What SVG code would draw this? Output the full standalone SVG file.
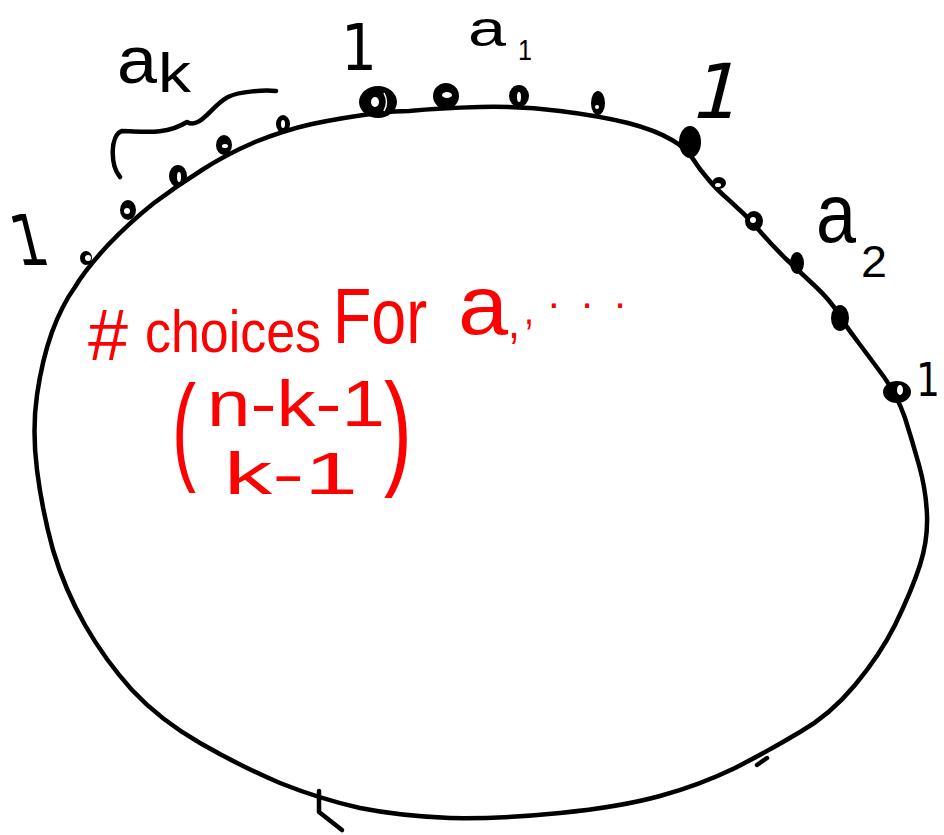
<svg xmlns="http://www.w3.org/2000/svg" width="944" height="835" viewBox="0 0 944 835">
<style>
.c{fill:none;stroke:#000;stroke-width:4.5;stroke-linecap:round;stroke-linejoin:round}
.h{fill:#fff}
.k{fill:#000;font-family:"Liberation Sans",Arial,sans-serif}
.o{fill:#000;font-family:"DejaVu Sans",sans-serif}
.r{fill:#f00;font-family:"Liberation Sans",Arial,sans-serif}
</style>
<rect width="944" height="835" fill="#fff"/>
<g id="loop">
<path class="c" d="M409 111Q440 108 480 107Q520 106 560 111Q600 116 628 123Q655 130 672 140Q686 148 693 159Q700 170 708 179Q715 188 730 201Q745 214 758 229Q770 243 785 258Q800 272 815 286Q830 300 838 313Q845 325 858 342Q870 358 884 377Q897 395 905 418Q912 440 919 465Q926 490 927 515Q928 540 920 565Q912 590 895 625Q880 655 855 685Q830 715 800 732Q770 750 735 768Q700 785 660 796Q620 807 560 813Q500 819 450 818Q400 816 360 808Q320 799 280 783Q240 766 200 743Q160 720 132 690Q105 660 85 625Q65 590 53 550Q42 510 37 470Q32 430 37 395Q42 360 52 332Q62 305 75 287Q85 270 108 245Q130 222 154 203Q178 185 202 170Q225 155 255 142Q285 130 312 124Q340 118 378 113Q395 111 409 111Z"/>
<path class="c" d="M319 791L319 812L342 830"/>
<path class="c" d="M757 765L767 758"/>
</g>
<g id="dots">
<ellipse cx="378" cy="102" rx="19" ry="16"/>
<ellipse class="h" cx="375" cy="102" rx="4" ry="5"/>
<path d="M384 93Q389 102 384 111" fill="none" stroke="#fff" stroke-width="1.5"/>
<ellipse cx="446" cy="96" rx="13" ry="13"/>
<ellipse class="h" cx="447" cy="95" rx="5" ry="3"/>
<ellipse cx="519" cy="96" rx="10" ry="11"/>
<ellipse class="h" cx="519" cy="97" rx="2" ry="5"/>
<ellipse cx="598" cy="103" rx="7" ry="12"/>
<ellipse class="h" cx="597" cy="107" rx="2" ry="2"/>
<ellipse cx="690" cy="142" rx="11" ry="16"/>
<ellipse cx="719" cy="183" rx="7" ry="6"/>
<ellipse class="h" cx="718" cy="185" rx="3" ry="2"/>
<ellipse cx="754" cy="221" rx="9" ry="10"/>
<ellipse class="h" cx="753" cy="220" rx="3" ry="3"/>
<ellipse cx="797" cy="263" rx="7" ry="11"/>
<ellipse cx="840" cy="318" rx="9" ry="13"/>
<ellipse cx="897" cy="392" rx="14" ry="11"/>
<ellipse class="h" cx="900" cy="390" rx="3" ry="5"/>
<ellipse cx="283" cy="124" rx="7" ry="9"/>
<ellipse class="h" cx="283" cy="124" rx="2" ry="4"/>
<ellipse cx="224" cy="145" rx="8" ry="10"/>
<ellipse class="h" cx="225" cy="146" rx="3" ry="2"/>
<ellipse cx="178" cy="176" rx="9" ry="11"/>
<ellipse class="h" cx="179" cy="177" rx="2" ry="5"/>
<ellipse cx="128" cy="210" rx="8" ry="10"/>
<ellipse class="h" cx="127" cy="211" rx="3" ry="3"/>
<ellipse cx="86" cy="258" rx="6" ry="7"/>
<ellipse class="h" cx="88" cy="258" rx="3" ry="3"/>
<path class="c" d="M120 177C110 165 110 135 122 131C140 131 165 136 187 122C200 130 212 105 228 97C240 91 265 90 276 91"/>
</g>
<g id="black-labels">
<text class="k" x="117" y="83" font-size="66" textLength="40" lengthAdjust="spacingAndGlyphs">a</text>
<text class="k" x="158" y="92" font-size="56" textLength="33" lengthAdjust="spacingAndGlyphs">k</text>
<text class="o" x="341" y="70" font-size="64" textLength="36" lengthAdjust="spacingAndGlyphs">1</text>
<text class="k" x="468" y="46" font-size="50" textLength="38" lengthAdjust="spacingAndGlyphs">a</text>
<text class="k" x="518" y="60" font-size="30" textLength="14" lengthAdjust="spacingAndGlyphs">1</text>
<text class="o" font-size="76" transform="translate(688 118) skewX(-14)">1</text>
<text class="k" x="816" y="242" font-size="84" textLength="40" lengthAdjust="spacingAndGlyphs">a</text>
<text class="k" x="861" y="277" font-size="44" textLength="26" lengthAdjust="spacingAndGlyphs">2</text>
<text class="o" x="916" y="396" font-size="46" textLength="24" lengthAdjust="spacingAndGlyphs">1</text>
<text class="o" font-size="70" transform="translate(18 265) skewX(14)" textLength="34" lengthAdjust="spacingAndGlyphs">1</text>
</g>
<g id="red-labels">
<text class="r" x="88" y="360" font-size="72" textLength="40" lengthAdjust="spacingAndGlyphs">#</text>
<text class="r" x="145" y="352" font-size="60" textLength="176" lengthAdjust="spacingAndGlyphs">choices</text>
<text class="r" x="333" y="343" font-size="78" textLength="94" lengthAdjust="spacingAndGlyphs">For</text>
<text class="r" x="458" y="334" font-size="84" textLength="50" lengthAdjust="spacingAndGlyphs">a</text>
<text class="r" x="508" y="338" font-size="46" textLength="12" lengthAdjust="spacingAndGlyphs">,</text>
<text class="r" x="524" y="324" font-size="42" textLength="10" lengthAdjust="spacingAndGlyphs">,</text>
<text class="r" x="548" y="308" font-size="42" textLength="78" lengthAdjust="spacing">...</text>
<text class="r" x="172" y="468" font-size="118" textLength="24" lengthAdjust="spacingAndGlyphs">(</text>
<text class="r" x="207" y="426" font-size="64" textLength="178" lengthAdjust="spacingAndGlyphs">n-k-1</text>
<text class="r" x="224" y="494" font-size="60" textLength="134" lengthAdjust="spacingAndGlyphs">k-1</text>
<text class="r" x="384" y="472" font-size="126" textLength="28" lengthAdjust="spacingAndGlyphs">)</text>
</g>
</svg>
